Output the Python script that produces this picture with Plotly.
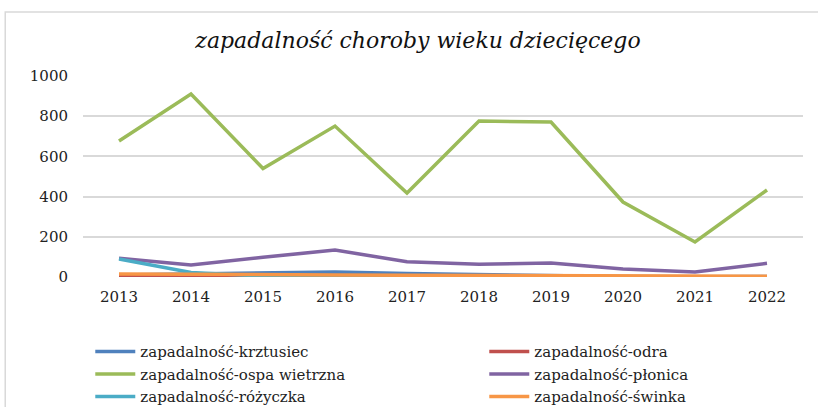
import plotly.graph_objects as go

years = ["2013", "2014", "2015", "2016", "2017", "2018", "2019", "2020", "2021", "2022"]
krztusiec = [10, 16, 20, 25, 18, 12, 8, 2, 1, 3]
odra = [1, 1, 0.5, 0.5, 1, 2, 3, 0.5, 0.2, 0.2]
ospa = [677, 910, 540, 751, 418, 776, 771, 373, 174, 433]
plonica = [93, 60, 98, 134, 76, 63, 70, 40, 25, 68]
rozyczka = [90, 22, 5, 3, 2, 1, 1, 0.5, 0.3, 0.2]
swinka = [15, 12, 10, 10, 9, 8, 8, 4, 3, 4]

names = ["zapadalność-krztusiec", "zapadalność-odra", "zapadalność-ospa wietrzna",
         "zapadalność-płonica", "zapadalność-różyczka", "zapadalność-świnka"]
series = [krztusiec, odra, ospa, plonica, rozyczka, swinka]
colors = ["#4F81BD", "#C0504D", "#9BBB59", "#8064A2", "#4BACC6", "#F79646"]

fig = go.Figure()
for n, s, c in zip(names, series, colors):
    fig.add_trace(go.Scatter(x=years, y=s, name=n, mode="lines",
                             line=dict(color=c, width=3.5)))

font = "DejaVu Serif"
fig.update_layout(
    width=818, height=407,
    margin=dict(l=83, r=15, t=76, b=130, autoexpand=False),
    paper_bgcolor="white", plot_bgcolor="white",
    font=dict(family=font, size=15, color="#222"),
    title=dict(text="<i>zapadalność choroby wieku dziecięcego</i>",
               x=0.511, xanchor="center", y=0.902, yanchor="middle",
               font=dict(family=font, size=22, color="#111")),
    xaxis=dict(type="category", range=[-0.5, 9.5], showgrid=False, showline=False, ticks="",
               ticklabelstandoff=9, tickfont=dict(size=15, family=font)),
    yaxis=dict(range=[0, 1000], dtick=200, gridcolor="#D9D9D9", gridwidth=1.5,
               zeroline=False, showline=False, ticks="", ticklabelstandoff=14,
               tickfont=dict(size=15, family=font)),
    legend=dict(orientation="h", x=-0.001, xanchor="left", y=-0.25, yanchor="top",
                entrywidth=339, entrywidthmode="pixels",
                borderwidth=8, bordercolor="rgba(0,0,0,0)",
                font=dict(size=15, family=font), itemwidth=40,
                tracegroupgap=0, bgcolor="rgba(0,0,0,0)"),
    shapes=[dict(type="rect", xref="paper", yref="paper", x0=-0.108, x1=1.05, y0=-0.7, y1=1.318,
                 line=dict(color="#D9D9D9", width=1.5))],
)
fig.write_html("out.html", post_script="document.body.style.margin='0';",
               config={"displayModeBar": False})
